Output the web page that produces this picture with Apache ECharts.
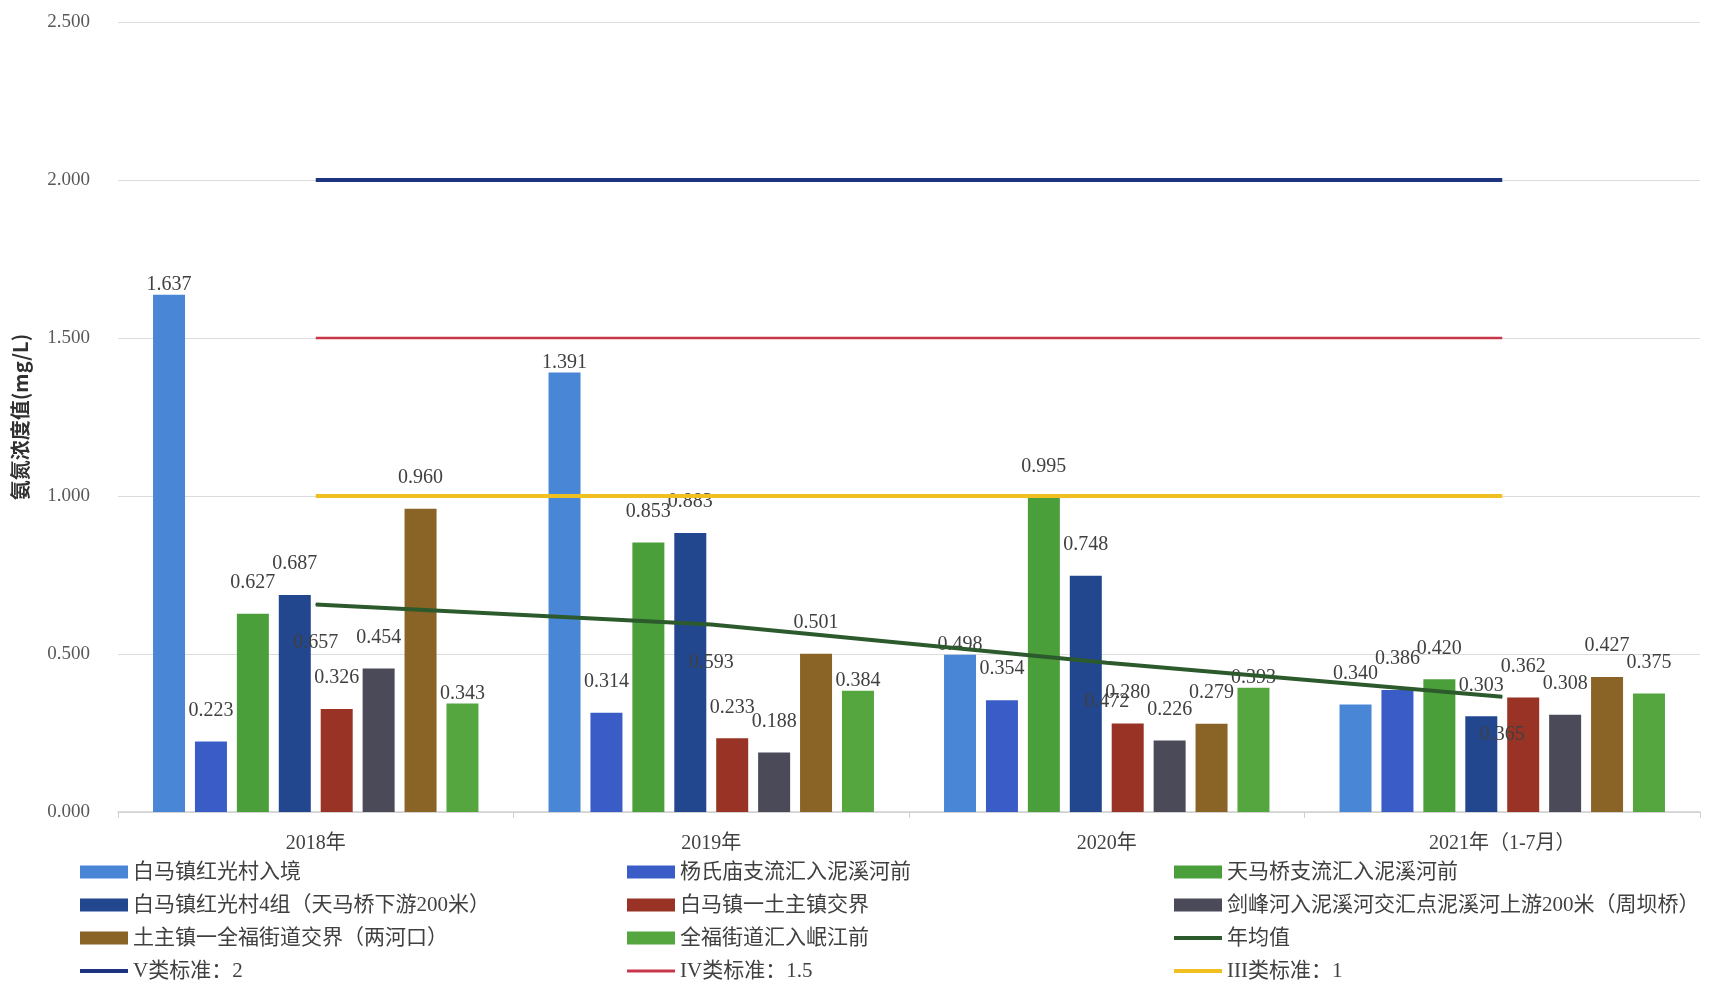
<!DOCTYPE html>
<html>
<head>
<meta charset="utf-8">
<script src="https://cdn.jsdelivr.net/npm/echarts@6/dist/echarts.min.js"></script>
<style>
html,body{margin:0;padding:0;background:#fff;}
#chart{width:1720px;height:985px;}
</style>
</head>
<body>
<div id="chart"></div>
<script>
const categories = ['2018年', '2019年', '2020年', '2021年（1-7月）'];
const seriesNames = [
  '白马镇红光村入境',
  '杨氏庙支流汇入泥溪河前',
  '天马桥支流汇入泥溪河前',
  '白马镇红光村4组（天马桥下游200米）',
  '白马镇一土主镇交界',
  '剑峰河入泥溪河交汇点泥溪河上游200米（周坝桥）',
  '土主镇一全福街道交界（两河口）',
  '全福街道汇入岷江前'
];
const s0 = [1.637, 1.391, 0.498, 0.340];
const s1 = [0.223, 0.314, 0.354, 0.386];
const s2 = [0.627, 0.853, 0.995, 0.420];
const s3 = [0.687, 0.883, 0.748, 0.303];
const s4 = [0.326, 0.233, 0.280, 0.362];
const s5 = [0.454, 0.188, 0.226, 0.308];
const s6 = [0.960, 0.501, 0.279, 0.427];
const s7 = [0.343, 0.384, 0.393, 0.375];
const annualMean = [0.657, 0.593, 0.472, 0.365];
const stdV = [2, 2, 2, 2];
const stdIV = [1.5, 1.5, 1.5, 1.5];
const stdIII = [1, 1, 1, 1];
const yTicks = [0, 0.5, 1, 1.5, 2, 2.5];

const barValues = [s0, s1, s2, s3, s4, s5, s6, s7];
const barColors = ['#4a86d6', '#3a5cc6', '#4b9f3a', '#22478f', '#983325', '#4a4a58', '#8a6326', '#55a63f'];
// labels that sit close to the bar top in the reference: [series, category]
const nearLabels = [[0,0],[7,0],[0,1],[7,1],[0,2],[7,2]];

const numFont = "'Liberation Serif', 'Noto Sans CJK SC', serif";

const series = [];
barValues.forEach((vals, si) => {
  series.push({
    name: seriesNames[si],
    type: 'bar',
    barWidth: 32,
    barGap: '31%',
    itemStyle: { color: barColors[si] },
    data: vals.map((v, ci) => {
      const near = nearLabels.some(p => p[0] === si && p[1] === ci);
      return { value: v, label: { distance: near ? 0 : 21 } };
    }),
    label: {
      show: true, position: 'top', color: '#404040', fontSize: 20,
      fontFamily: numFont, formatter: p => p.value.toFixed(3)
    }
  });
});
series.push({
  name: '年均值', type: 'line', data: annualMean, symbol: 'circle', symbolSize: 1, showSymbol: true,
  lineStyle: { color: '#2c5a2c', width: 4 }, itemStyle: { color: '#2c5a2c' },
  label: { show: true, position: 'bottom', distance: 28, color: '#404040', fontSize: 20,
    fontFamily: numFont, formatter: p => p.value.toFixed(3) }
});
series.push({
  name: 'V类标准：2', type: 'line', data: stdV, symbol: 'none',
  lineStyle: { color: '#1f347e', width: 4 }, itemStyle: { color: '#1f347e' }
});
series.push({
  name: 'IV类标准：1.5', type: 'line', data: stdIV, symbol: 'none',
  lineStyle: { color: '#c8364a', width: 2.5 }, itemStyle: { color: '#c8364a' }
});
series.push({
  name: 'III类标准：1', type: 'line', data: stdIII, symbol: 'none',
  lineStyle: { color: '#f0c020', width: 4 }, itemStyle: { color: '#f0c020' }
});

function legendCol(names, left, top, iconH) {
  return {
    orient: 'vertical', left: left, top: top, padding: 0,
    itemWidth: 48, itemHeight: iconH, itemGap: 9,
    selectedMode: false, icon: 'rect',
    textStyle: { fontSize: 21, color: '#404040', fontFamily: numFont, lineHeight: 24 },
    data: names
  };
}

const option = {
  animation: false,
  backgroundColor: '#ffffff',
  grid: { left: 118, right: 20, top: 22, bottom: 173 },
  xAxis: {
    type: 'category', data: categories,
    axisLine: { lineStyle: { color: '#d0d0d0', width: 1.5 } },
    axisTick: { show: true, length: 6, lineStyle: { color: '#d0d0d0' } },
    axisLabel: { color: '#404040', fontSize: 20, fontFamily: numFont, margin: 22 }
  },
  yAxis: {
    type: 'value', min: yTicks[0], max: yTicks[yTicks.length - 1], interval: 0.5,
    name: '氨氮浓度值(mg/L)', nameLocation: 'middle', nameGap: 88,
    nameTextStyle: { fontSize: 20, color: '#303030', fontFamily: "'Noto Sans CJK SC', sans-serif", fontWeight: 'bold' },
    axisLine: { show: false }, axisTick: { show: false },
    axisLabel: { color: '#595959', fontSize: 19, fontFamily: numFont, margin: 28, formatter: v => v.toFixed(3) },
    splitLine: { lineStyle: { color: '#dcdcdc', width: 1 } }
  },
  legend: [
    legendCol([seriesNames[0], seriesNames[3], seriesNames[6]], 80, 860, 13),
    legendCol(['V类标准：2'], 80, 959, 4),
    legendCol([seriesNames[1], seriesNames[4], seriesNames[7]], 627, 860, 13),
    legendCol(['IV类标准：1.5'], 627, 959, 3),
    legendCol([seriesNames[2], seriesNames[5]], 1174, 860, 13),
    legendCol(['年均值', 'III类标准：1'], 1174, 926, 4)
  ],
  series: series
};

const chart = echarts.init(document.getElementById('chart'), null, { renderer: 'canvas' });
chart.setOption(option);
</script>
</body>
</html>
